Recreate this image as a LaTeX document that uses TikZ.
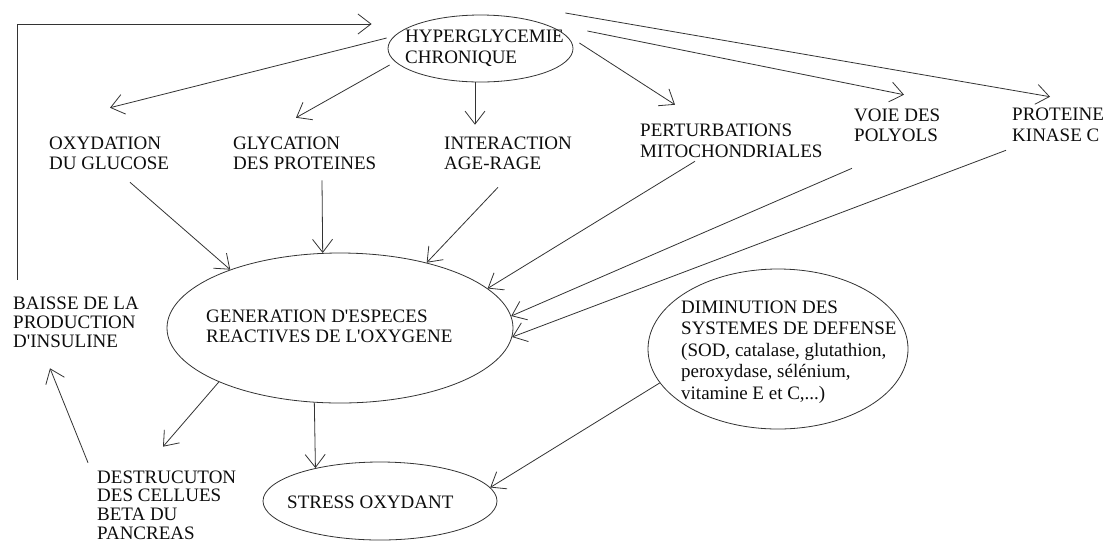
\documentclass[tikz,border=0pt]{standalone}
\usepackage{fontspec}
\setmainfont{Liberation Serif}
\usetikzlibrary{arrows.meta,shapes.geometric,calc}
\newcommand\ap{\textquotesingle}
\begin{document}
\begin{tikzpicture}[x=1pt,y=-1pt,
  txt/.style={anchor=west,inner sep=0pt,align=left,text=black!95},
  fs/.style={font=\fontsize{19}{#1}\selectfont},
  oval/.style={draw=black!80,line width=0.8pt,ellipse,inner sep=0pt},
  arr/.style={draw=black!80,line width=0.8pt,-{Straight Barb[length=13pt,width=20pt,line width=0.8pt]}},
]
\useasboundingbox[fill=white] (0,0) rectangle (1107,542);

% ellipses
\node[oval,minimum width=185pt,minimum height=67pt] (hyper) at (480.5,48.5) {};
\node[oval,minimum width=346pt,minimum height=150pt] (gen) at (340,328) {};
\node[oval,minimum width=234pt,minimum height=78pt] (stress) at (380,501) {};
\node[oval,minimum width=260pt,minimum height=160pt] (dim) at (778,349) {};

% texts
\node[txt,fs=21] (hypert) at (405,48.5) {HYPERGLYCEMIE\\CHRONIQUE};
\node[txt,fs=20] (oxy) at (49,153) {OXYDATION\\DU GLUCOSE};
\node[txt,fs=20] (gly) at (233,153) {GLYCATION\\DES PROTEINES};
\node[txt,fs=20] (inter) at (444,153) {INTERACTION\\AGE-RAGE};
\node[txt,fs=21] (pert) at (640,140.5) {PERTURBATIONS\\MITOCHONDRIALES};
\node[txt,fs=20] (voie) at (854,125) {VOIE DES\\POLYOLS};
\node[txt,fs=21] (prot) at (1012,124.5) {PROTEINE\\KINASE C};
\node[txt,fs=19] (baisse) at (13,322) {BAISSE DE LA\\PRODUCTION\\D\ap INSULINE};
\node[txt,fs=18.7] (destr) at (97,505) {DESTRUCUTON\\DES CELLUES\\BETA DU\\PANCREAS};
\node[txt,fs=19.5] (gent) at (206,326.5) {GENERATION D\ap ESPECES\\REACTIVES DE L\ap OXYGENE};
\node[txt,fs=20] (stresst) at (287,502) {STRESS OXYDANT};
\node[txt,fs=21.5] (dimt) at (681,352) {DIMINUTION DES\\SYSTEMES DE DEFENSE\\(SOD, catalase, glutathion,\\peroxydase, sélénium,\\vitamine E et C,...)};

% feedback loop
\draw[arr] ($(baisse.north west)+(4,-16.7)$) |- ($(hyper.west)+(-16,-24.5)$);

% from hyperglycemie
\draw[arr] ($(hyper.west)+(-1,-10.5)$) -- ($(oxy.north west)+(61,-28.7)$);
\draw[arr] ($(hyper.west)+(2,16.5)$) -- ($(gly.north west)+(63,-18.7)$);
\draw[arr] ($(hyper.south)+(-5.5,0)$) -- ($(inter.north west)+(31,-11.7)$);
\draw[arr] ($(hyper.east)+(6,-5.5)$) -- ($(pert.north west)+(35,-18.7)$);
\draw[arr] ($(hyper.east)+(14,-17.5)$) -- ($(voie.north west)+(50,-13.7)$);
\draw[arr] ($(hyper.east)+(-8,-35.5)$) -- ($(prot.north west)+(38,-10.7)$);

% to generation
\draw[arr] ($(oxy.south west)+(81,12.7)$) -- (gen.152);
\draw[arr] ($(gly.south west)+(89,10.7)$) -- (gen.103.5);
\draw[arr] ($(inter.south west)+(54,17.7)$) -- (gen.37);
\draw[arr] ($(pert.south west)+(55,3.7)$) -- (gen.15);
\draw[arr] ($(voie.south west)+(-2,26.7)$) -- (gen.4);
\draw[arr] ($(prot.south west)+(-6,8.7)$) -- (gen.357);

% lower part
\draw[arr] (gen.204) -- ($(destr.north west)+(66,-23.7)$);
\draw[arr] (gen.251) -- (stress.153);
\draw[arr] (dim.196) -- (stress.7);
\draw[arr] ($(destr.north west)+(-9,-7.7)$) -- ($(baisse.south west)+(37,20.7)$);
\end{tikzpicture}
\end{document}
